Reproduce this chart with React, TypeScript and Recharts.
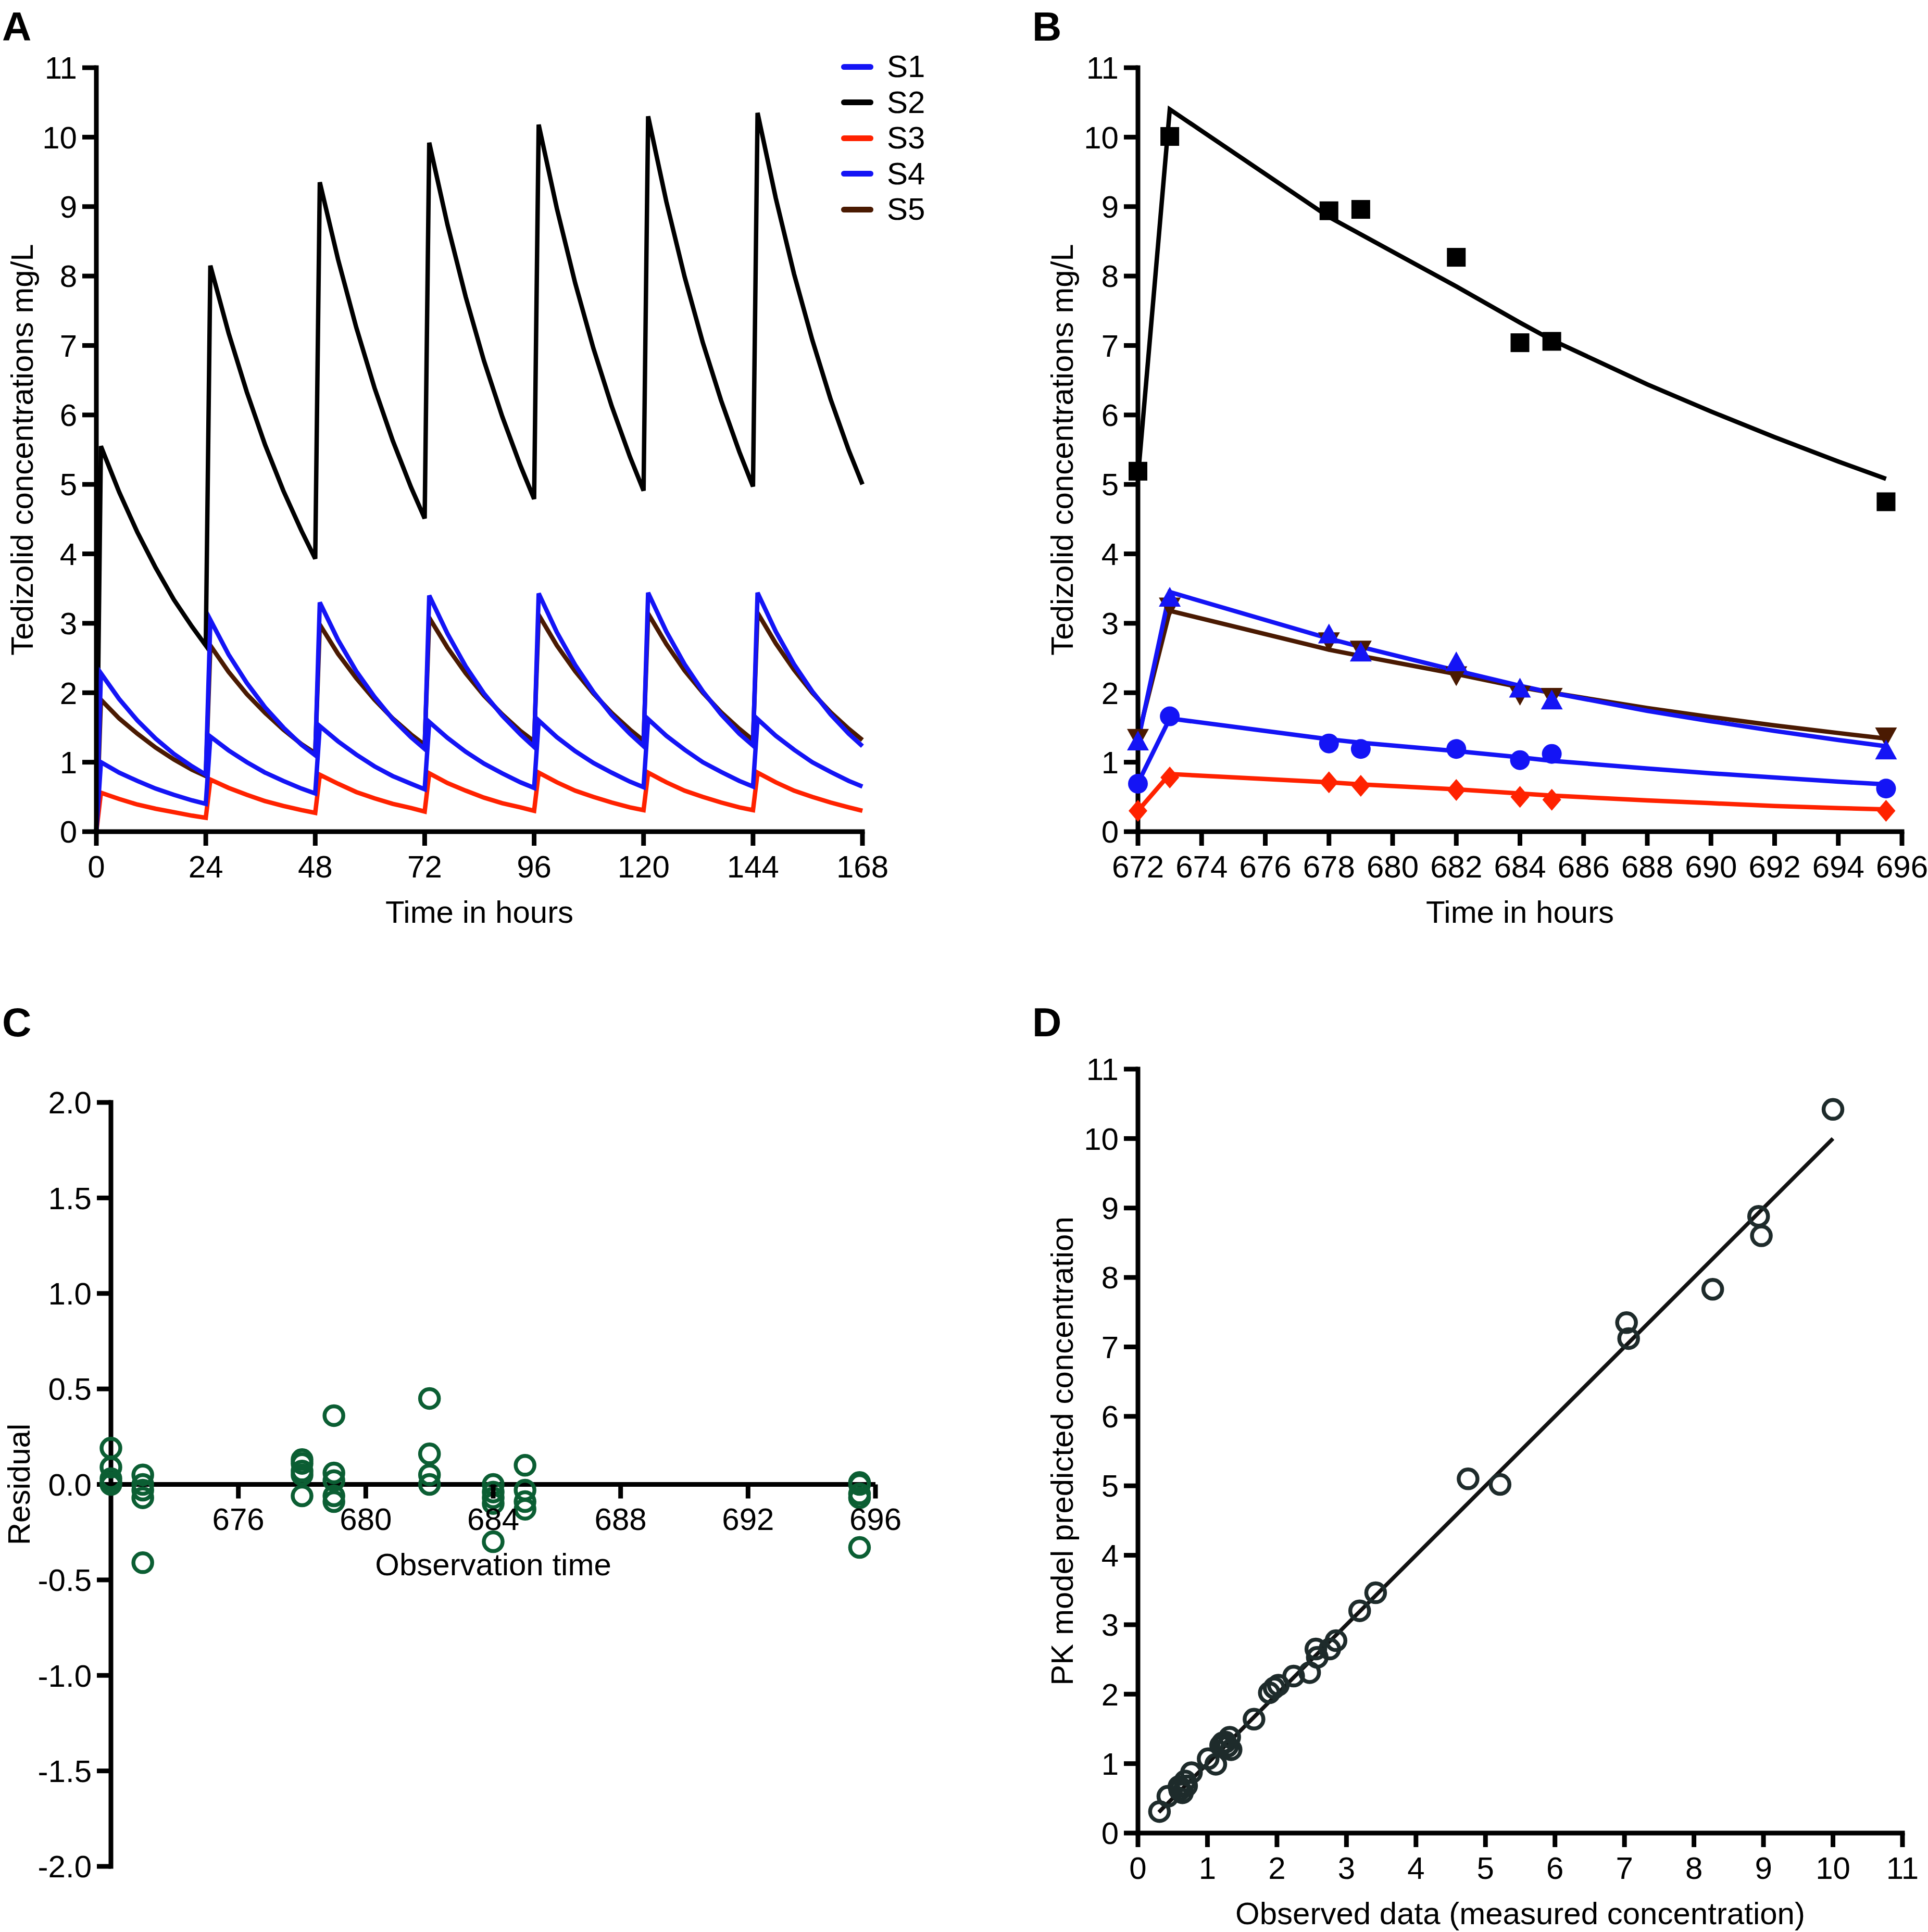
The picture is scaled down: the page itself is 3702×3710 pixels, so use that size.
import React from "react";
import { ComposedChart, LineChart, Line, Scatter, XAxis, YAxis, ReferenceLine, Legend } from "recharts";

const FONT = '"Liberation Sans", Arial, Helvetica, sans-serif';
const BLUE = "#1414f5";
const RED = "#ff2200";
const BROWN = "#4a1a02";
const GREEN = "#0b5e33";
const DARK = "#1e2b2b";

// ---- Panel A: simulated profiles over 7 days (hours) ----
const A_TIMES = [
  0, 1, 5, 9, 13, 17, 21, 24,
  25, 29, 33, 37, 41, 45, 48,
  49, 53, 57, 61, 65, 69, 72,
  73, 77, 81, 85, 89, 93, 96,
  97, 101, 105, 109, 113, 117, 120,
  121, 125, 129, 133, 137, 141, 144,
  145, 149, 153, 157, 161, 165, 168,
];
const A_S1 = [
  0, 1.0, 0.85, 0.73, 0.62, 0.53, 0.45, 0.4,
  1.37, 1.17, 1.0, 0.85, 0.73, 0.62, 0.55,
  1.52, 1.3, 1.11, 0.94, 0.8, 0.69, 0.61,
  1.58, 1.35, 1.15, 0.98, 0.84, 0.71, 0.63,
  1.6, 1.36, 1.16, 0.99, 0.85, 0.72, 0.64,
  1.62, 1.38, 1.18, 1.0, 0.86, 0.73, 0.65,
  1.62, 1.38, 1.18, 1.0, 0.86, 0.73, 0.65,
];
const A_S2 = [
  0, 5.55, 4.89, 4.31, 3.8, 3.34, 2.95, 2.68,
  8.15, 7.18, 6.33, 5.57, 4.91, 4.33, 3.93,
  9.35, 8.24, 7.26, 6.39, 5.63, 4.96, 4.51,
  9.92, 8.74, 7.7, 6.78, 5.98, 5.27, 4.79,
  10.18, 8.97, 7.9, 6.96, 6.13, 5.4, 4.91,
  10.3, 9.07, 7.99, 7.04, 6.21, 5.47, 4.97,
  10.35, 9.12, 8.03, 7.08, 6.23, 5.49, 5.0,
];
const A_S3 = [
  0, 0.56, 0.47, 0.39, 0.33, 0.28, 0.23, 0.2,
  0.75, 0.63, 0.53, 0.44, 0.37, 0.31, 0.27,
  0.82, 0.69, 0.57, 0.48, 0.4, 0.34, 0.29,
  0.84, 0.7, 0.59, 0.49, 0.41, 0.35, 0.3,
  0.85, 0.71, 0.59, 0.5, 0.42, 0.35, 0.31,
  0.85, 0.71, 0.59, 0.5, 0.42, 0.35, 0.31,
  0.85, 0.71, 0.59, 0.5, 0.42, 0.35, 0.3,
];
const A_S4 = [
  0, 2.28, 1.91, 1.6, 1.34, 1.12, 0.94, 0.82,
  3.05, 2.55, 2.14, 1.79, 1.5, 1.25, 1.1,
  3.3, 2.76, 2.31, 1.94, 1.62, 1.36, 1.19,
  3.4, 2.85, 2.38, 1.99, 1.67, 1.4, 1.22,
  3.43, 2.87, 2.4, 2.01, 1.68, 1.41, 1.23,
  3.44, 2.88, 2.41, 2.02, 1.69, 1.41, 1.24,
  3.44, 2.88, 2.41, 2.02, 1.69, 1.41, 1.23,
];
const A_S5 = [
  0, 1.9, 1.63, 1.41, 1.21, 1.04, 0.89, 0.8,
  2.68, 2.3, 1.98, 1.71, 1.47, 1.26, 1.13,
  2.98, 2.56, 2.21, 1.9, 1.63, 1.4, 1.25,
  3.08, 2.65, 2.28, 1.96, 1.69, 1.45, 1.3,
  3.12, 2.68, 2.31, 1.99, 1.71, 1.47, 1.31,
  3.14, 2.7, 2.32, 2.0, 1.72, 1.48, 1.32,
  3.15, 2.71, 2.33, 2.0, 1.72, 1.48, 1.32,
];
const A_TICKS = [0, 24, 48, 72, 96, 120, 144, 168];
const CONC_TICKS = [0, 1, 2, 3, 4, 5, 6, 7, 8, 9, 10, 11];

// ---- Panel B: last dosing interval, observed + fitted ----
const B_OBS_T = [672, 673, 678, 679, 682, 684, 685, 695.5];
const B_OBS_S1 = [0.69, 1.66, 1.27, 1.19, 1.19, 1.03, 1.12, 0.62];
const B_OBS_S2 = [5.19, 10.01, 8.94, 8.96, 8.27, 7.04, 7.06, 4.75];
const B_OBS_S3 = [0.3, 0.78, 0.71, 0.66, 0.6, 0.5, 0.46, 0.3];
const B_OBS_S4 = [1.29, 3.36, 2.83, 2.57, 2.43, 2.05, 1.88, 1.16];
const B_OBS_S5 = [1.36, 3.25, 2.75, 2.63, 2.26, 1.98, 1.95, 1.38];

const B_FIT_T = [672, 673, 678, 679, 682, 684, 685, 688, 690, 692, 694, 695.5];
const B_FIT_S1 = [0.7, 1.63, 1.33, 1.28, 1.16, 1.07, 1.02, 0.91, 0.84, 0.78, 0.72, 0.68];
const B_FIT_S2 = [5.1, 10.4, 8.85, 8.6, 7.85, 7.33, 7.08, 6.44, 6.05, 5.68, 5.33, 5.08];
const B_FIT_S3 = [0.3, 0.83, 0.71, 0.68, 0.61, 0.55, 0.52, 0.45, 0.41, 0.37, 0.34, 0.32];
const B_FIT_S4 = [1.3, 3.45, 2.78, 2.66, 2.32, 2.1, 2.0, 1.74, 1.59, 1.45, 1.32, 1.23];
const B_FIT_S5 = [1.36, 3.18, 2.62, 2.53, 2.27, 2.08, 2.0, 1.78, 1.65, 1.53, 1.42, 1.34];
const B_TICKS = [672, 674, 676, 678, 680, 682, 684, 686, 688, 690, 692, 694, 696];

// ---- Panel C: residuals ----
const C_T = [
  672, 672, 672, 672, 672,
  673, 673, 673, 673, 673,
  678, 678, 678, 678, 678,
  679, 679, 679, 679, 679,
  682, 682, 682, 682,
  684, 684, 684, 684, 684,
  685, 685, 685, 685,
  695.5, 695.5, 695.5, 695.5, 695.5,
];
const C_RESID = [
  0.19, 0.09, 0.03, 0.01, 0.0,
  0.05, 0.0, -0.03, -0.07, -0.41,
  0.13, 0.11, 0.07, 0.05, -0.06,
  0.36, 0.06, 0.02, -0.06, -0.09,
  0.45, 0.16, 0.05, 0.0,
  0.0, -0.04, -0.07, -0.1, -0.3,
  0.1, -0.03, -0.09, -0.13,
  0.01, 0.0, -0.05, -0.07, -0.33,
];
const C_X_TICKS = [676, 680, 684, 688, 692, 696];
const C_Y_TICKS = [-2, -1.5, -1, -0.5, 0, 0.5, 1, 1.5, 2];

// ---- Panel D: observed vs predicted ----
const D_OBS = [
  10.0, 8.93, 8.97, 8.27, 7.03, 7.06, 4.75, 5.21, 3.42, 3.19, 2.85, 2.76,
  2.56, 2.58, 2.47, 2.24, 2.02, 1.96, 1.89, 1.67, 1.32, 1.26, 1.19, 1.34,
  1.12, 1.01, 0.77, 0.68, 0.59, 0.64, 0.43, 0.31, 0.6, 0.7, 1.22, 1.29,
];
const D_PRED = [
  10.42, 8.88, 8.6, 7.83, 7.35, 7.12, 5.1, 5.02, 3.46, 3.2, 2.77, 2.65,
  2.65, 2.53, 2.31, 2.26, 2.13, 2.09, 2.02, 1.64, 1.38, 1.31, 1.26, 1.2,
  0.99, 1.07, 0.87, 0.75, 0.67, 0.58, 0.53, 0.31, 0.62, 0.68, 1.3, 1.25,
];
const D_FIT_X = [0.3, 10.0];
const D_FIT_Y = [0.3, 10.0];

const LEGEND_A = [
  { name: "S1", color: BLUE },
  { name: "S2", color: "#000" },
  { name: "S3", color: RED },
  { name: "S4", color: BLUE },
  { name: "S5", color: BROWN },
];

const panelA = A_TIMES.map((t, i) => ({
  t,
  s1: A_S1[i],
  s2: A_S2[i],
  s3: A_S3[i],
  s4: A_S4[i],
  s5: A_S5[i],
}));
const pts = (xs: number[], ys: number[]) => xs.map((t, i) => ({ t, v: ys[i] }));
const panelC = C_T.map((t, i) => ({ t, v: C_RESID[i] }));
const panelD = D_OBS.map((x, i) => ({ x, y: D_PRED[i] }));
const panelDFit = D_FIT_X.map((x, i) => ({ x, y: D_FIT_Y[i] }));

const axisLine = { stroke: "#000", strokeWidth: 9, strokeLinecap: "square" } as any;
const tickLine = { stroke: "#000", strokeWidth: 9 };
const tickStyle = { fill: "#000", fontSize: 60 };
const LW = 8.5;

const yTitle = (value: string, offset: number) => ({
  value,
  angle: -90,
  position: "insideLeft",
  offset,
  fontSize: 60,
  fill: "#000",
  style: { textAnchor: "middle" },
}) as any;

const xTitle = (value: string, offset: number) => ({
  value,
  position: "insideBottom",
  offset,
  fontSize: 60,
  fill: "#000",
}) as any;

function LegendA() {
  return (
    <div>
      {LEGEND_A.map((item) => (
        <div key={item.name} style={{ display: "flex", alignItems: "center", height: 68.5 }}>
          <div style={{ width: 62, height: 11, borderRadius: 6, background: item.color }} />
          <span style={{ marginLeft: 26, fontSize: 60, lineHeight: "68px", color: "#000" }}>{item.name}</span>
        </div>
      ))}
    </div>
  );
}

// marker shapes for panel B
const Square = (p: any) => <rect x={p.cx - 18} y={p.cy - 18} width={36} height={36} fill="#000" />;
const Dot = (p: any) => <circle cx={p.cx} cy={p.cy} r={19} fill={BLUE} />;
const TriUp = (p: any) => (
  <polygon points={`${p.cx},${p.cy - 22} ${p.cx + 21},${p.cy + 16} ${p.cx - 21},${p.cy + 16}`} fill={BLUE} />
);
const TriDown = (p: any) => (
  <polygon points={`${p.cx},${p.cy + 22} ${p.cx + 21},${p.cy - 16} ${p.cx - 21},${p.cy - 16}`} fill={BROWN} />
);
const Diamond = (p: any) => (
  <polygon
    points={`${p.cx},${p.cy - 21} ${p.cx + 18},${p.cy} ${p.cx},${p.cy + 21} ${p.cx - 18},${p.cy}`}
    fill={RED}
  />
);
const Ring = (color: string) => (p: any) => (
  <circle cx={p.cx} cy={p.cy} r={18} fill="none" stroke={color} strokeWidth={7.5} />
);

// panel C: x axis sits on the zero line (chart-local y of the zero line)
const C_TOP = 267;
const C_PLOT_H = 1467;
const C_ZERO_Y = C_TOP + C_PLOT_H / 2;
function ResidualTick(p: any) {
  const { x, payload } = p;
  return (
    <g>
      <line x1={x} x2={x} y1={C_ZERO_Y} y2={C_ZERO_Y + 27} stroke="#000" strokeWidth={9} />
      <text x={x} y={C_ZERO_Y + 45} dy="0.71em" textAnchor="middle" fontSize={60} fill="#000">
        {payload.value}
      </text>
    </g>
  );
}

export default function App() {
  return (
    <div style={{ position: "relative", width: 3702, height: 3710, background: "#fff", fontFamily: FONT }}>
      <style>{"body{margin:0}"}</style>

      {/* A */}
      <div style={{ position: "absolute", left: 0, top: 0 }}>
        <LineChart width={1720} height={1800} data={panelA} margin={{ top: 130, right: 64, left: 0, bottom: 3 }}>
          <XAxis
            type="number"
            dataKey="t"
            domain={[0, 168]}
            ticks={A_TICKS}
            interval={0}
            height={200}
            tickSize={27}
            tickMargin={18}
            axisLine={axisLine}
            tickLine={tickLine}
            tick={tickStyle}
            label={xTitle("Time in hours", 25)}
          />
          <YAxis
            type="number"
            domain={[0, 11]}
            ticks={CONC_TICKS}
            interval={0}
            width={185}
            tickSize={27}
            tickMargin={10}
            axisLine={axisLine}
            tickLine={tickLine}
            tick={tickStyle}
            label={yTitle("Tedizolid concentrations mg/L", 42)}
          />
          <Legend
            layout="vertical"
            align="center"
            verticalAlign="middle"
            wrapperStyle={{ left: 1615, top: 94, width: 200 }}
            content={() => <LegendA />}
          />
          <Line name="S2" dataKey="s2" stroke="#000" strokeWidth={LW} dot={false} activeDot={false} type="linear" isAnimationActive={false} />
          <Line name="S5" dataKey="s5" stroke={BROWN} strokeWidth={LW} dot={false} activeDot={false} type="linear" isAnimationActive={false} />
          <Line name="S3" dataKey="s3" stroke={RED} strokeWidth={LW} dot={false} activeDot={false} type="linear" isAnimationActive={false} />
          <Line name="S1" dataKey="s1" stroke={BLUE} strokeWidth={LW} dot={false} activeDot={false} type="linear" isAnimationActive={false} />
          <Line name="S4" dataKey="s4" stroke={BLUE} strokeWidth={LW} dot={false} activeDot={false} type="linear" isAnimationActive={false} />
        </LineChart>
      </div>

      {/* B */}
      <div style={{ position: "absolute", left: 1850, top: 0 }}>
        <ComposedChart width={1852} height={1800} margin={{ top: 130, right: 50, left: 0, bottom: 3 }}>
          <XAxis
            type="number"
            dataKey="t"
            domain={[672, 696]}
            ticks={B_TICKS}
            interval={0}
            height={200}
            tickSize={27}
            tickMargin={18}
            axisLine={axisLine}
            tickLine={tickLine}
            tick={tickStyle}
            label={xTitle("Time in hours", 25)}
          />
          <YAxis
            type="number"
            domain={[0, 11]}
            ticks={CONC_TICKS}
            interval={0}
            width={335}
            tickSize={27}
            tickMargin={10}
            axisLine={axisLine}
            tickLine={tickLine}
            tick={tickStyle}
            label={yTitle("Tedizolid concentrations mg/L", 189)}
          />
          <Line data={pts(B_FIT_T, B_FIT_S5)} dataKey="v" stroke={BROWN} strokeWidth={LW} dot={false} activeDot={false} isAnimationActive={false} />
          <Line data={pts(B_FIT_T, B_FIT_S4)} dataKey="v" stroke={BLUE} strokeWidth={LW} dot={false} activeDot={false} isAnimationActive={false} />
          <Line data={pts(B_FIT_T, B_FIT_S1)} dataKey="v" stroke={BLUE} strokeWidth={LW} dot={false} activeDot={false} isAnimationActive={false} />
          <Line data={pts(B_FIT_T, B_FIT_S3)} dataKey="v" stroke={RED} strokeWidth={LW} dot={false} activeDot={false} isAnimationActive={false} />
          <Line data={pts(B_FIT_T, B_FIT_S2)} dataKey="v" stroke="#000" strokeWidth={LW} dot={false} activeDot={false} isAnimationActive={false} />
          <Scatter data={pts(B_OBS_T, B_OBS_S5)} dataKey="v" shape={TriDown} isAnimationActive={false} />
          <Scatter data={pts(B_OBS_T, B_OBS_S4)} dataKey="v" shape={TriUp} isAnimationActive={false} />
          <Scatter data={pts(B_OBS_T, B_OBS_S1)} dataKey="v" shape={Dot} isAnimationActive={false} />
          <Scatter data={pts(B_OBS_T, B_OBS_S3)} dataKey="v" shape={Diamond} isAnimationActive={false} />
          <Scatter data={pts(B_OBS_T, B_OBS_S2)} dataKey="v" shape={Square} isAnimationActive={false} />
        </ComposedChart>
      </div>

      {/* C */}
      <div style={{ position: "absolute", left: 0, top: 1850 }}>
        <ComposedChart width={1800} height={1860} margin={{ top: C_TOP, right: 119, left: 0, bottom: 26 }}>
          <XAxis
            type="number"
            dataKey="t"
            domain={[672, 696]}
            ticks={C_X_TICKS}
            interval={0}
            height={100}
            tickSize={0}
            tickMargin={0}
            axisLine={false}
            tickLine={false}
            tick={(p: any) => <ResidualTick {...p} />}
          />
          <YAxis
            type="number"
            domain={[-2, 2]}
            ticks={C_Y_TICKS}
            interval={0}
            width={213}
            tickSize={27}
            tickMargin={10}
            axisLine={axisLine}
            tickLine={tickLine}
            tick={tickStyle}
            tickFormatter={(v: number) => v.toFixed(1)}
            label={yTitle("Residual", 36)}
          />
          <ReferenceLine
            y={0}
            stroke="#000"
            strokeWidth={9}
            label={{ value: "Observation time", position: "bottom", offset: 132, fontSize: 60, fill: "#000" } as any}
          />
          <Scatter data={panelC} dataKey="v" shape={Ring(GREEN)} isAnimationActive={false} />
        </ComposedChart>
      </div>

      {/* D */}
      <div style={{ position: "absolute", left: 1850, top: 1850 }}>
        <ComposedChart width={1852} height={1860} margin={{ top: 203, right: 49, left: 0, bottom: 10 }}>
          <XAxis
            type="number"
            dataKey="x"
            domain={[0, 11]}
            ticks={CONC_TICKS}
            interval={0}
            height={180}
            tickSize={27}
            tickMargin={18}
            axisLine={axisLine}
            tickLine={tickLine}
            tick={tickStyle}
            label={xTitle("Observed data (measured concentration)", 5)}
          />
          <YAxis
            type="number"
            domain={[0, 11]}
            ticks={CONC_TICKS}
            interval={0}
            width={335}
            tickSize={27}
            tickMargin={10}
            axisLine={axisLine}
            tickLine={tickLine}
            tick={tickStyle}
            label={yTitle("PK model predicted concentration", 189)}
          />
          <Line data={panelDFit} dataKey="y" stroke="#111" strokeWidth={7.5} dot={false} activeDot={false} isAnimationActive={false} />
          <Scatter data={panelD} dataKey="y" shape={Ring(DARK)} isAnimationActive={false} />
        </ComposedChart>
      </div>

      <svg
        width={3702}
        height={3710}
        style={{ position: "absolute", left: 0, top: 0, pointerEvents: "none" }}
      >
        <g fontWeight="bold" fontSize={78} fill="#000">
          <text x={4} y={78}>A</text>
          <text x={1982} y={78}>B</text>
          <text x={4} y={1990}>C</text>
          <text x={1982} y={1990}>D</text>
        </g>
      </svg>
    </div>
  );
}
